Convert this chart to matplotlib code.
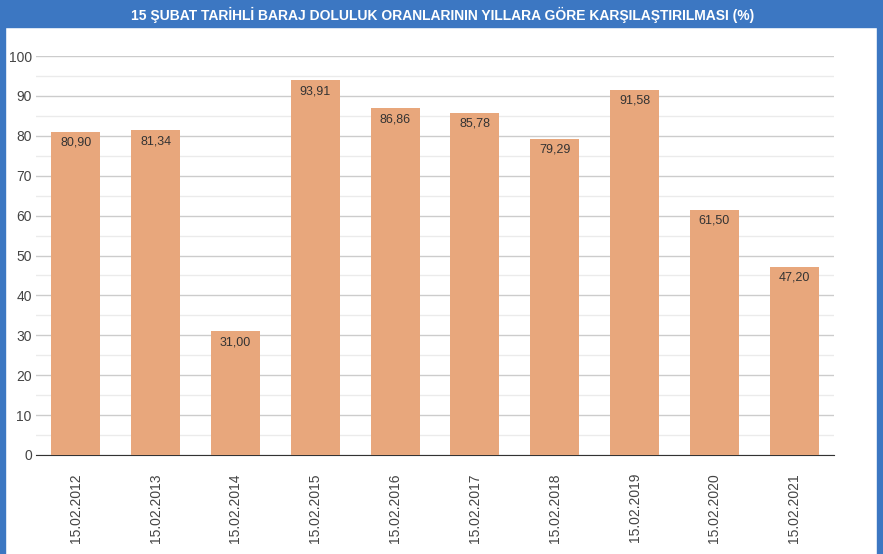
import matplotlib.pyplot as plt
from matplotlib.patches import Rectangle

dates = ['15.02.2012', '15.02.2013', '15.02.2014', '15.02.2015', '15.02.2016',
         '15.02.2017', '15.02.2018', '15.02.2019', '15.02.2020', '15.02.2021']
values = [80.90, 81.34, 31.00, 93.91, 86.86, 85.78, 79.29, 91.58, 61.50, 47.20]
title = '15 ŞUBAT TARİHLİ BARAJ DOLULUK ORANLARININ YILLARA GÖRE KARŞILAŞTIRILMASI (%)'

W, H = 883, 554
fig = plt.figure(figsize=(W / 100, H / 100), dpi=100)
blue = '#3c77c2'

# blue frame and title bar
fig.patches.append(Rectangle((0, 1 - 27 / H), 1, 27 / H, transform=fig.transFigure,
                             color=blue, zorder=0))
fig.patches.append(Rectangle((0, 0), 5 / W, 1, transform=fig.transFigure, color=blue, zorder=0))
fig.patches.append(Rectangle((877 / W, 0), 6 / W, 1, transform=fig.transFigure, color=blue, zorder=0))
fig.text(0.501, 1 - 15 / H, title, color='white', fontsize=10, fontweight='bold',
         family='Liberation Sans', ha='center', va='center')

ax = fig.add_axes([36 / W, 1 - 455 / H, (834 - 36) / W, (455 - 56) / H])
x = range(len(values))
ax.bar(x, values, width=0.615, color='#e8a77c', zorder=3)
for xi, v in zip(x, values):
    ax.text(xi, v - 1.2, f'{v:.2f}'.replace('.', ','), ha='center', va='top',
            fontsize=9, color='#333333', family='Liberation Sans', zorder=4)

ax.set_xlim(-0.5, len(values) - 0.5)
ax.set_ylim(0, 100)
ax.set_yticks(range(0, 101, 10))
ax.set_yticks(range(5, 100, 10), minor=True)
ax.grid(axis='y', which='major', color='#cccccc', linewidth=1, zorder=0)
ax.grid(axis='y', which='minor', color='#ebebeb', linewidth=1, zorder=0)
for s in ['top', 'right', 'left']:
    ax.spines[s].set_visible(False)
ax.spines['bottom'].set_color('#333333')
ax.tick_params(axis='both', which='both', length=0)
ax.tick_params(axis='y', pad=3, labelsize=10, labelcolor='#444444')
ax.set_xticks(list(x))
ax.set_xticklabels(dates, rotation=90, fontsize=10, color='#444444')
ax.tick_params(axis='x', pad=13)
for lab in ax.get_xticklabels() + ax.get_yticklabels():
    lab.set_family('Liberation Sans')

fig.savefig('out.png', dpi=100)
